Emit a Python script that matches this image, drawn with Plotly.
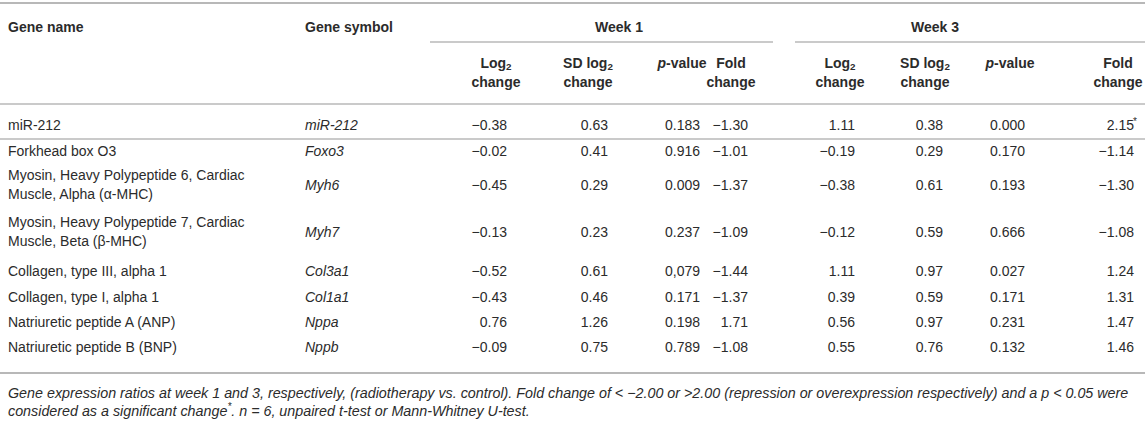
import plotly.graph_objects as go

# ---------------- data ----------------
gene_names = [
    "miR-212",
    "Forkhead box O3",
    "Myosin, Heavy Polypeptide 6, Cardiac<br>Muscle, Alpha (α-MHC)",
    "Myosin, Heavy Polypeptide 7, Cardiac<br>Muscle, Beta (β-MHC)",
    "Collagen, type III, alpha 1",
    "Collagen, type I, alpha 1",
    "Natriuretic peptide A (ANP)",
    "Natriuretic peptide B (BNP)",
]
gene_symbols = ["miR-212", "Foxo3", "Myh6", "Myh7", "Col3a1", "Col1a1", "Nppa", "Nppb"]
w1_log2 = ["−0.38", "−0.02", "−0.45", "−0.13", "−0.52", "−0.43", "0.76", "−0.09"]
w1_sd = ["0.63", "0.41", "0.29", "0.23", "0.61", "0.46", "1.26", "0.75"]
w1_p = ["0.183", "0.916", "0.009", "0.237", "0,079", "0.171", "0.198", "0.789"]
w1_fold = ["−1.30", "−1.01", "−1.37", "−1.09", "−1.44", "−1.37", "1.71", "−1.08"]
w3_log2 = ["1.11", "−0.19", "−0.38", "−0.12", "1.11", "0.39", "0.56", "0.55"]
w3_sd = ["0.38", "0.29", "0.61", "0.59", "0.97", "0.59", "0.97", "0.76"]
w3_p = ["0.000", "0.170", "0.193", "0.666", "0.027", "0.171", "0.231", "0.132"]
w3_fold = ["2.15", "−1.14", "−1.30", "−1.08", "1.24", "1.31", "1.47", "1.46"]
w3_fold_mark = ["*", "", "", "", "", "", "", ""]

group_labels = ["Week 1", "Week 3"]
sub_line1 = ["Log<sub>2</sub>", "SD log<sub>2</sub>", "<i>p</i>-value", "Fold"]
sub_line2 = ["change", "change", "", "change"]
caption_lines = [
    "Gene expression ratios at week 1 and 3, respectively, (radiotherapy vs. control). "
    "Fold change of &lt; −2.00 or &gt;2.00 (repression or overexpression respectively) and a p &lt; 0.05 were",
    "considered as a significant change<sup>*</sup>. n = 6, unpaired t-test or Mann-Whitney U-test.",
]

# ---------------- layout constants ----------------
W, H = 1145, 424
FONT = "Liberation Sans, Arial, Helvetica, sans-serif"
TXT = "#2b2b2b"
RULE = "#b8b8b8"
FS = 14

name_x = 8
symbol_x = 305
value_right = [507, 608, 700, 748, 855, 943, 1025, 1134]
sub_centers = [496, 588, 682, 731, 840, 925, 1010, 1118]
group_spans = [(430, 773), (795, 1145)]
row_y = [126, 152, 186, 233, 272, 298, 323, 348]

fig = go.Figure()


def add_text(xs, ys, texts, pos, size=FS, weight="normal", style="normal", color=TXT):
    fig.add_trace(go.Scatter(
        x=xs, y=ys, text=texts, mode="text", textposition=pos,
        textfont=dict(family=FONT, size=size, color=color, weight=weight, style=style),
        hoverinfo="skip", showlegend=False, cliponaxis=False))


# header row
add_text([name_x, symbol_x], [28, 28], ["Gene name", "Gene symbol"], "middle right", weight="bold")
add_text([619, 935], [28, 28], group_labels, "middle center", weight="bold")

# sub headers (two lines each)
l1 = sub_line1 * 2
l2 = sub_line2 * 2
add_text(sub_centers, [64] * len(l1), l1, "middle center", weight="bold")
idx2 = [i for i, t in enumerate(l2) if t]
add_text([sub_centers[i] for i in idx2], [83] * len(idx2), [l2[i] for i in idx2],
         "middle center", weight="bold")

# body
add_text([name_x] * len(gene_names), row_y, gene_names, "middle right")
add_text([symbol_x] * len(gene_symbols), row_y, gene_symbols, "middle right", style="italic")
cols = [w1_log2, w1_sd, w1_p, w1_fold, w3_log2, w3_sd, w3_p, w3_fold]
for xr, col in zip(value_right, cols):
    add_text([xr] * len(col), row_y, col, "middle left")
idxm = [i for i, t in enumerate(w3_fold_mark) if t]
add_text([value_right[-1] - 1] * len(idxm), [row_y[i] - 4 for i in idxm],
         [w3_fold_mark[i] for i in idxm], "middle right", size=10)

# caption
add_text([name_x, name_x], [394, 412], caption_lines, "middle right", size=14.3, style="italic")

# rules
shapes = []


def hline(x0, x1, yy, w=1.5):
    shapes.append(dict(type="line", xref="x", yref="y", x0=x0, x1=x1, y0=yy, y1=yy,
                       line=dict(color=RULE, width=w)))


hline(0, W, 3, 2)
for a, b in group_spans:
    hline(a, b, 42)
hline(0, W, 104)
hline(0, W, 139)
hline(0, W, 373, 2)

fig.update_layout(
    width=W, height=H, margin=dict(l=0, r=0, t=0, b=0),
    paper_bgcolor="white", plot_bgcolor="white",
    xaxis=dict(range=[0, W], visible=False, fixedrange=True),
    yaxis=dict(range=[H, 0], visible=False, fixedrange=True),
    shapes=shapes,
)
fig.write_html(
    "out.html",
    config={"displayModeBar": False},
    post_script="document.body.style.margin='0';document.body.style.overflow='hidden';",
)
